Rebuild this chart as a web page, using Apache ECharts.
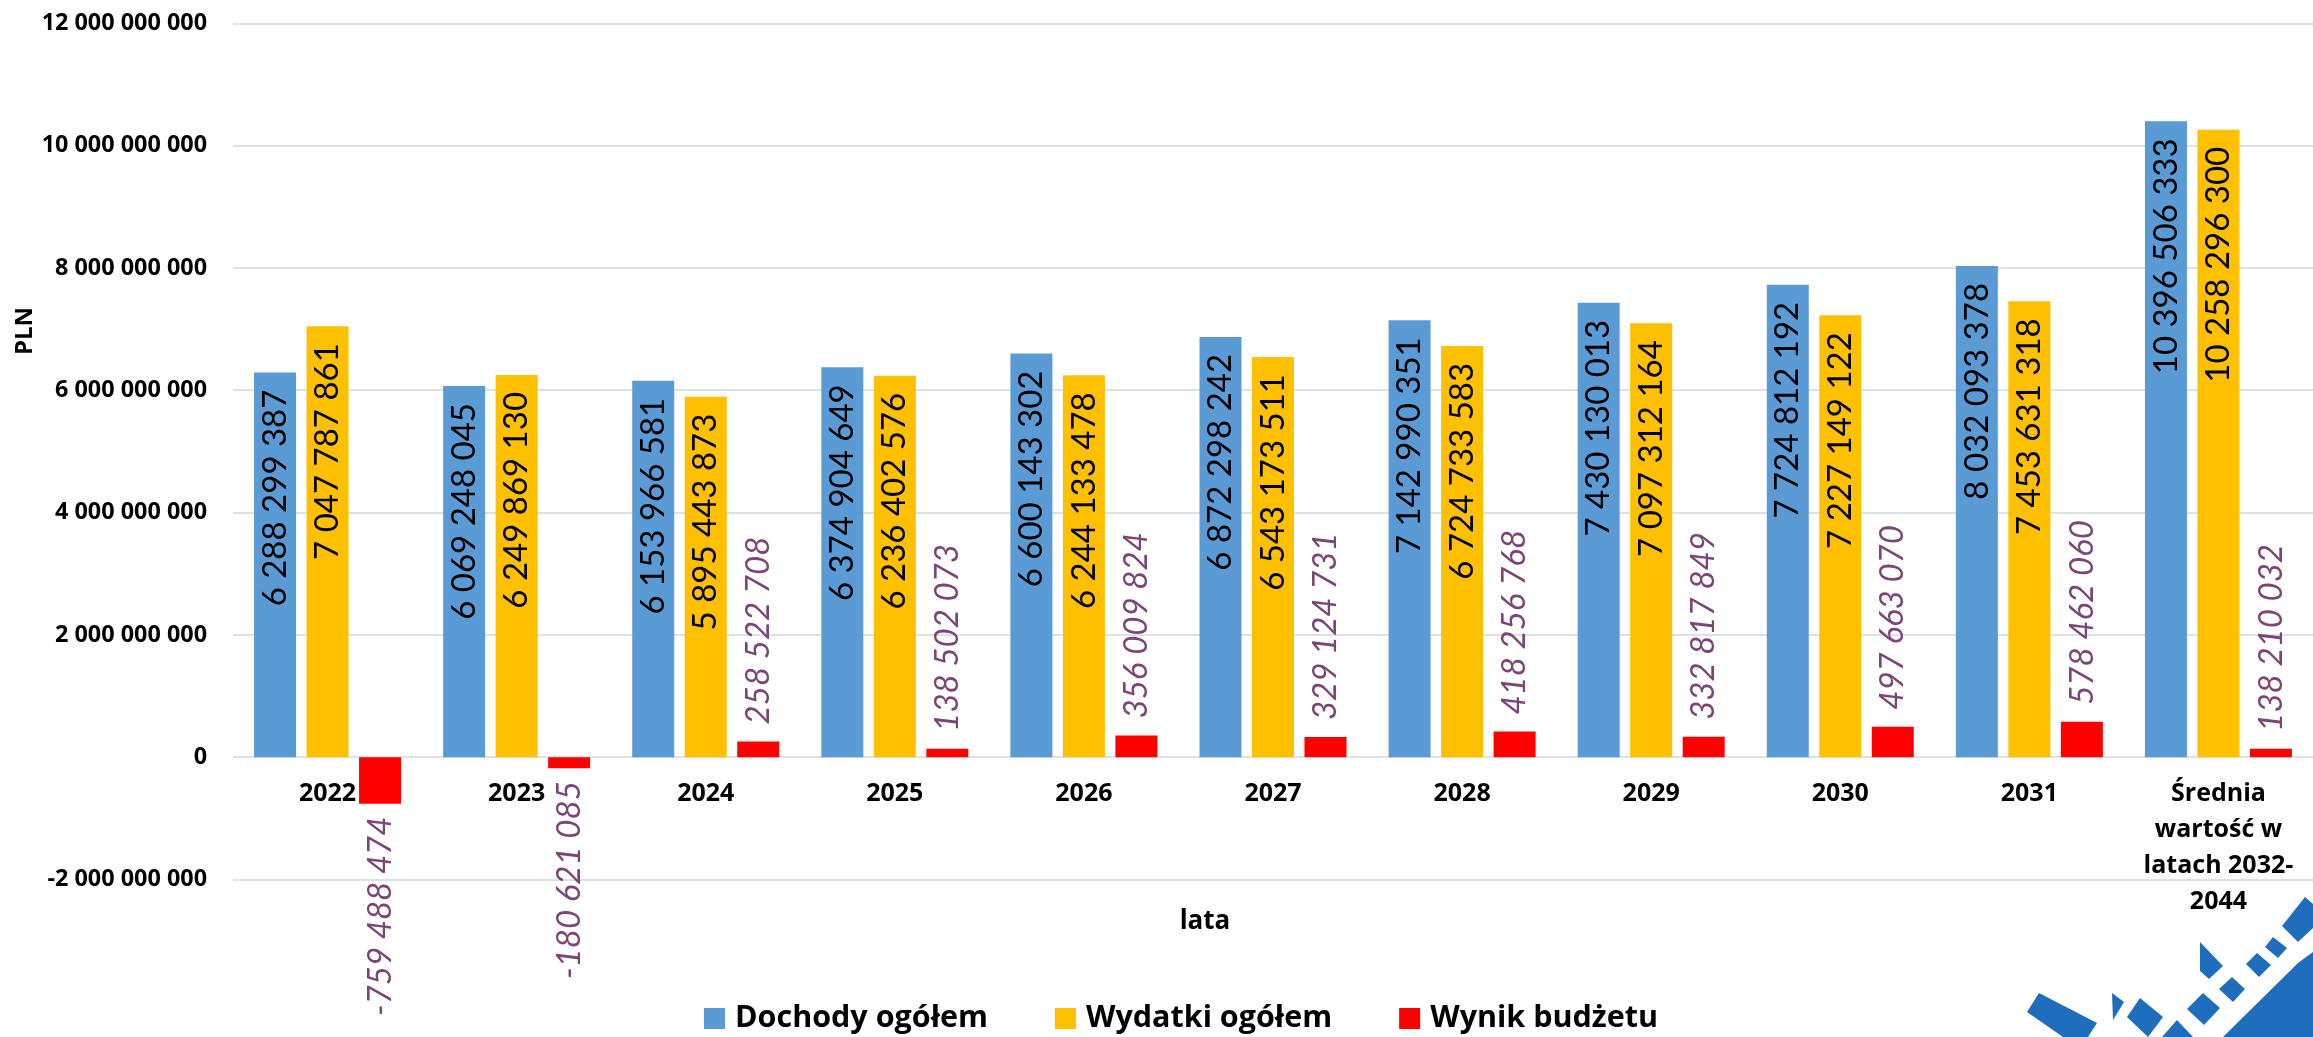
<!DOCTYPE html>
<html>
<head>
<meta charset="utf-8">
<title>Dochody, wydatki i wynik budżetu</title>
<script src="https://cdn.jsdelivr.net/npm/echarts@6/dist/echarts.min.js"></script>
<style>
  html, body { margin: 0; padding: 0; background: #ffffff; }
  #chart { width: 2313px; height: 1037px; }
</style>
</head>
<body>
<div id="chart"></div>
<script>
// Budget figures (PLN) per year
const categories = ['2022', '2023', '2024', '2025', '2026', '2027', '2028', '2029', '2030', '2031',
  'Średnia\nwartość w\nlatach 2032-\n2044'];
const dochody = [6288299387, 6069248045, 6153966581, 6374904649, 6600143302, 6872298242,
  7142990351, 7430130013, 7724812192, 8032093378, 10396506333];
const wydatki = [7047787861, 6249869130, 5895443873, 6236402576, 6244133478, 6543173511,
  6724733583, 7097312164, 7227149122, 7453631318, 10258296300];
const wynik = [-759488474, -180621085, 258522708, 138502073, 356009824, 329124731,
  418256768, 332817849, 497663070, 578462060, 138210032];
const seriesNames = ['Dochody ogółem', 'Wydatki ogółem', 'Wynik budżetu'];
const yTicks = { min: -2000000000, max: 12000000000, interval: 2000000000 };

const fmt = v => String(v).replace(/\B(?=(\d{3})+(?!\d))/g, ' ');

const W = 2313, H = 1037;
const grid = { left: 233, right: -15.5, top: 23.3, bottom: 157.5 };
// lift the category axis from the bottom of the plot up to the zero line
const plotH = H - grid.top - grid.bottom;
const zeroLift = plotH * (0 - yTicks.min) / (yTicks.max - yTicks.min);

const chart = echarts.init(document.getElementById('chart'), null, { renderer: 'canvas' });

const insideLabel = {
  show: true,
  position: 'insideTop',
  distance: 17,
  rotate: 90,
  align: 'right',
  verticalAlign: 'middle',
  fontFamily: 'Lato',
  fontSize: 33,
  color: '#000000',
  formatter: p => fmt(p.value)
};

// result labels sit outside the bar end, above or below depending on sign
const wynikData = wynik.map(v => ({
  value: v,
  label: v >= 0
    ? { position: 'top', align: 'left', distance: 17 }
    : { position: 'bottom', align: 'right', distance: 13 }
}));

// decorative logo shapes in the lower right corner
const logoShapes = [
  [[2305, 897], [2313, 904], [2313, 928], [2298, 942], [2282, 926]],
  [[2273, 937], [2287, 948], [2278, 958], [2265, 947]],
  [[2257, 953], [2271, 965], [2259, 977], [2246, 964]],
  [[2313, 952], [2313, 1037], [2223, 1037], [2298, 963]],
  [[2200, 942], [2223, 966], [2209, 979], [2200, 971]],
  [[2232, 977], [2245, 989], [2233, 1002], [2219, 989]],
  [[2203, 993], [2220, 1008], [2204, 1025], [2187, 1009]],
  [[2177, 1020], [2193, 1037], [2162, 1037]],
  [[2140, 998], [2163, 1017], [2148, 1037], [2127, 1017]],
  [[2112, 993], [2124, 1002], [2113, 1020]],
  [[2039, 993], [2097, 1023], [2088, 1037], [2063, 1037], [2027, 1012]]
];

const boldFont = { fontFamily: 'Open Sans', fontWeight: 'bold', color: '#000000' };

const option = {
  backgroundColor: '#ffffff',
  animation: false,
  color: ['#5B9BD5', '#FFC000', '#FF0000'],
  grid: Object.assign({ containLabel: false }, grid),
  legend: {
    data: seriesNames,
    left: 699,
    top: 998,
    icon: 'rect',
    itemWidth: 21,
    itemHeight: 21,
    itemGap: 67,
    textStyle: Object.assign({ fontSize: 30.5, padding: [0, 0, 0, 5] }, boldFont)
  },
  xAxis: {
    type: 'category',
    data: categories,
    offset: -zeroLift,
    axisLine: { show: false, onZero: false },
    axisTick: { show: false },
    axisLabel: Object.assign({
      interval: 0,
      margin: 19,
      fontSize: 25,
      lineHeight: 36
    }, boldFont)
  },
  yAxis: {
    type: 'value',
    min: yTicks.min,
    max: yTicks.max,
    interval: yTicks.interval,
    axisLine: { show: false },
    axisTick: { show: false },
    splitLine: { lineStyle: { color: '#DEE2E8', width: 2 } },
    axisLabel: Object.assign({
      margin: 26,
      fontSize: 23.4,
      formatter: v => fmt(v)
    }, boldFont)
  },
  series: [
    {
      name: seriesNames[0], type: 'bar', data: dochody,
      barWidth: 42, barGap: '25%',
      label: insideLabel
    },
    {
      name: seriesNames[1], type: 'bar', data: wydatki,
      barWidth: 42, barGap: '25%',
      label: insideLabel
    },
    {
      name: seriesNames[2], type: 'bar', data: wynikData,
      barWidth: 42, barGap: '25%',
      label: {
        show: true,
        rotate: 90,
        verticalAlign: 'middle',
        fontFamily: 'Lato',
        fontStyle: 'italic',
        fontSize: 33,
        color: '#7B4575',
        formatter: p => fmt(p.value)
      }
    }
  ],
  graphic: [
    {
      type: 'text',
      x: 25.5, y: 331, rotation: Math.PI / 2,
      style: {
        text: 'PLN', fontFamily: 'Open Sans', fontWeight: 'bold', fontSize: 24,
        fill: '#000000', align: 'center', verticalAlign: 'middle'
      }
    },
    {
      type: 'text',
      x: 1205, y: 922,
      style: {
        text: 'lata', fontFamily: 'Open Sans', fontWeight: 'bold', fontSize: 26,
        fill: '#000000', align: 'center', verticalAlign: 'middle'
      }
    },
    {
      type: 'group',
      z: -1,
      children: logoShapes.map(pts => ({
        type: 'polygon',
        shape: { points: pts },
        style: { fill: '#1E6EBD' }
      }))
    }
  ]
};

chart.setOption(option);
</script>
</body>
</html>
